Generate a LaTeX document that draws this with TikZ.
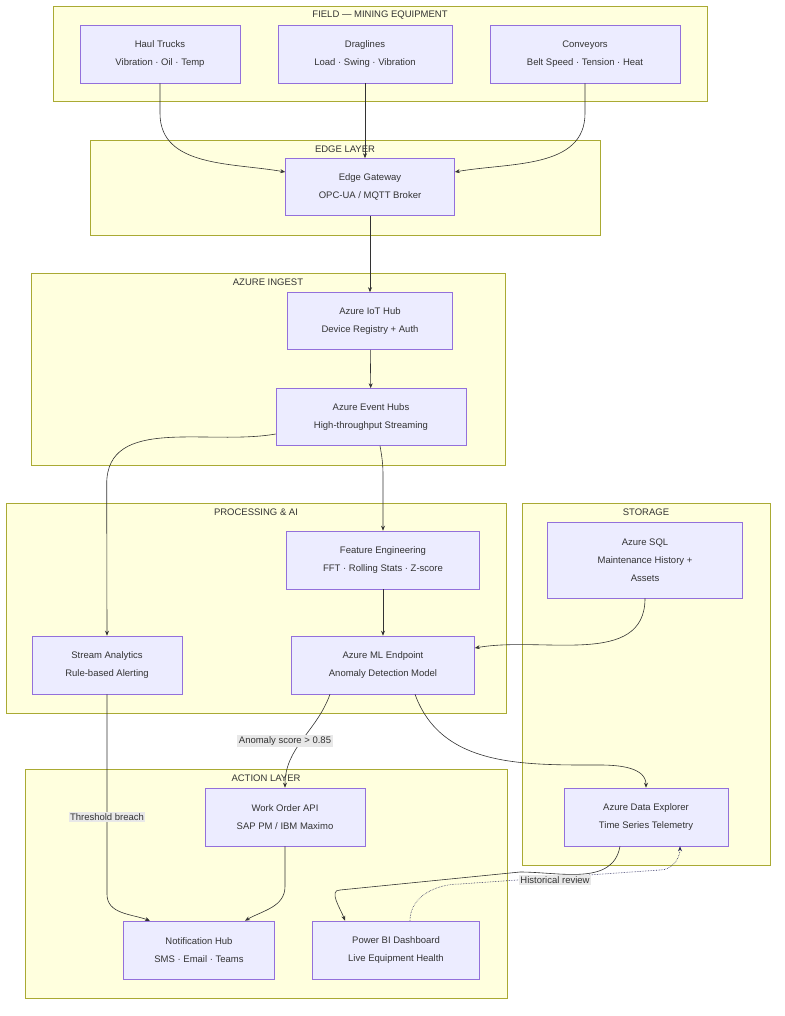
\documentclass[tikz,border=0pt]{standalone}
\usepackage{fontspec}
\setmainfont{Liberation Sans}
\usetikzlibrary{arrows.meta}
\definecolor{clfill}{HTML}{FFFFDE}
\definecolor{clline}{HTML}{AAAA33}
\definecolor{ndfill}{HTML}{ECECFF}
\definecolor{ndline}{HTML}{9370DB}
\definecolor{edge}{HTML}{333333}
\definecolor{lblbg}{HTML}{E8E8E8}
\begin{document}
\begin{tikzpicture}[x=1pt,y=-1pt]

    \tikzset{
      cluster/.style={draw=clline,fill=clfill,line width=0.6pt},
      ctitle/.style={font=\fontsize{9.5}{11}\selectfont,text=edge},
      box/.style={draw=ndline,fill=ndfill,line width=0.6pt,align=center,
        font=\fontsize{9.5}{18}\selectfont,text=edge,inner sep=0pt},
      link/.style={draw=edge,line width=0.6pt,-{Stealth[length=5pt,width=4pt]}},
      lbl/.style={fill=lblbg,font=\fontsize{9.5}{11}\selectfont,text=edge,inner sep=1.5pt},
    }
    \useasboundingbox (0,0) rectangle (784,1016);

	% clusters
	\draw[cluster] (53,6) rectangle (707,101);
	\draw[cluster] (90,140) rectangle (600,235);
	\draw[cluster] (31,273) rectangle (505,465);
	\draw[cluster] (6,503) rectangle (506,713);
	\draw[cluster] (522,503) rectangle (770,865);
	\draw[cluster] (25,769) rectangle (507,998);
	\node[ctitle] (tfield) at (380,15) {FIELD — MINING EQUIPMENT};
	\node[ctitle] (tedge) at (345,149) {EDGE LAYER};
	\node[ctitle] (tingest) at (268,282) {AZURE INGEST};
	\node[ctitle] (tproc) at (256,512) {PROCESSING \& AI};
	\node[ctitle] (tstore) at (646,512) {STORAGE};
	\node[ctitle] (taction) at (266,778) {ACTION LAYER};

	% nodes
	\node[box,minimum width=160,minimum height=58] (haul) at (160,54) {Haul Trucks\\Vibration · Oil · Temp};
	\node[box,minimum width=174,minimum height=58] (drag) at (365,54) {Draglines\\Load · Swing · Vibration};
	\node[box,minimum width=190,minimum height=58] (conv) at (585,54) {Conveyors\\Belt Speed · Tension · Heat};
	\node[box,minimum width=169,minimum height=57] (gw) at (370,187) {Edge Gateway\\OPC-UA / MQTT Broker};
	\node[box,minimum width=165,minimum height=57] (iot) at (370,321) {Azure IoT Hub\\Device Registry + Auth};
	\node[box,minimum width=190,minimum height=57] (eh) at (371,417) {Azure Event Hubs\\High-throughput Streaming};
	\node[box,minimum width=193,minimum height=58] (feat) at (383,560) {Feature Engineering\\FFT · Rolling Stats · Z-score};
	\node[box,minimum width=195,minimum height=76] (sql) at (645,560) {Azure SQL\\Maintenance History +\\Assets};
	\node[box,minimum width=150,minimum height=58] (sa) at (107,665) {Stream Analytics\\Rule-based Alerting};
	\node[box,minimum width=183,minimum height=58] (ml) at (383,665) {Azure ML Endpoint\\Anomaly Detection Model};
	\node[box,minimum width=160,minimum height=58] (wo) at (285,817) {Work Order API\\SAP PM / IBM Maximo};
	\node[box,minimum width=164,minimum height=58] (adx) at (646,817) {Azure Data Explorer\\Time Series Telemetry};
	\node[box,minimum width=151,minimum height=58] (nh) at (199,950) {Notification Hub\\SMS · Email · Teams};
	\node[box,minimum width=167,minimum height=58] (pbi) at (396,950) {Power BI Dashboard\\Live Equipment Health};

	% connectors
	\draw[link] (haul.south) -- ++(0,30) to[out=-90,in=170] (gw.west |- 0,172);
	\draw[link] (drag.south -| 365,0) -- (gw.north -| 365,0);
	\draw[link] (conv.south) -- ++(0,30) to[out=-90,in=10] (gw.east |- 0,172);
	\draw[link] (gw) -- (iot);
	\draw[link] (iot) -- (eh);
	\draw[link] (eh.west |- 0,434) to[out=190,in=90] ++(-169,50) -- (sa.north);
	\draw[link] (eh.south -| 380,0) to[out=-80,in=90] ++(3,30) -- (feat.north);
	\draw[link] (feat) -- (ml);
	\draw[link] (sql.south) to[out=-90,in=10] (ml.east |- 0,648);
	\draw[link] (ml.south -| 330,0) to[out=-110,in=90] (wo.north);
	\node[lbl] (lscore) at (285,741) {Anomaly score > 0.85};
	\draw[link] (ml.south -| 415,0) to[out=-70,in=180] (600,765) to[out=0,in=90] (adx.north);
	\draw[link] (sa.south) -- ++(0,200) to[out=-90,in=160] (nh.north -| 150,0);
	\node[lbl] (lbreach) at (107,817) {Threshold breach};
	\draw[link] (wo.south) -- ++(0,40) to[out=-90,in=30] (nh.north -| 245,0);
	\draw[link] (adx.south -| 620,0) to[out=-100,in=0] (520,872) -- (340,890) to[out=180,in=110] (pbi.north -| 345,0);
	\draw[link,densely dotted,draw=edge!80!blue] (pbi.north -| 410,0) to[out=90,in=180] (460,884) -- (660,870) to[out=0,in=-90] (adx.south -| 680,0);
	\node[lbl] (lhist) at (555,880) {Historical review};

\end{tikzpicture}
\end{document}
